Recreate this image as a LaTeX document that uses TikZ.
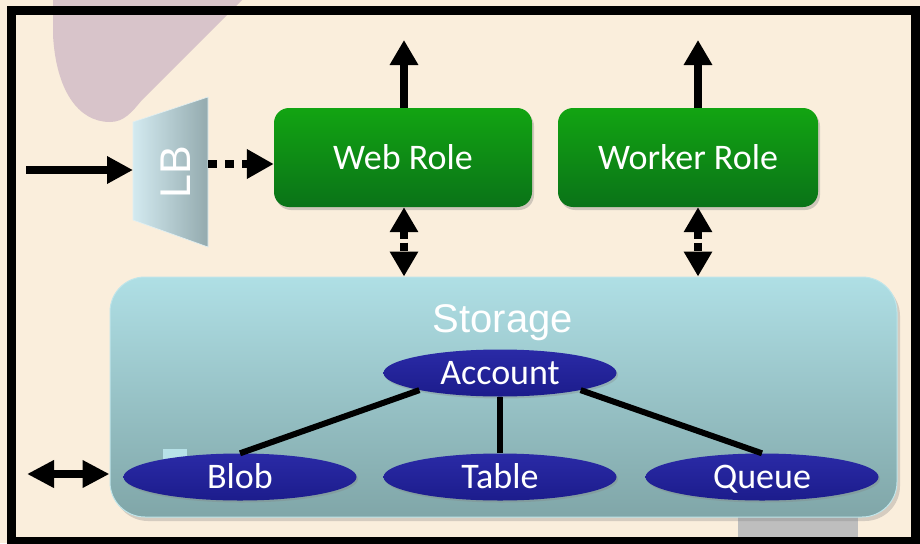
\documentclass[tikz,border=0pt]{standalone}
\usepackage{fontspec}
\setmainfont{Carlito}
\newfontfamily\lbfont{Liberation Sans}
\usetikzlibrary{arrows.meta,shapes.geometric,shadows}
\definecolor{bgc}{HTML}{FAEEDC}
\definecolor{blobpurple}{HTML}{D8C4CA}
\definecolor{greytab}{HTML}{BEBEBE}
\definecolor{grtop}{HTML}{12A412}
\definecolor{grbot}{HTML}{0A7318}
\definecolor{sttop}{HTML}{AFDFE5}
\definecolor{stmid}{HTML}{A3D0D5}
\definecolor{stbot}{HTML}{80A6A8}
\definecolor{eltop}{HTML}{2A2AA6}
\definecolor{elbot}{HTML}{1C1C8C}
\definecolor{lbl}{HTML}{D3EAF0}
\definecolor{lbr}{HTML}{93AAAE}
\tikzset{
  rolebox/.style={rounded corners=15pt, top color=grtop, bottom color=grbot, draw=none,
    minimum height=99pt, text=white, font=\fontsize{36}{42}\selectfont,
    drop shadow={opacity=0.35, shadow xshift=2pt, shadow yshift=-3pt}},
  storbox/.style={rounded corners=35pt, top color=sttop, middle color=stmid, bottom color=stbot,
    draw=sttop!80!white, line width=1pt,
    drop shadow={opacity=0.3, shadow xshift=3pt, shadow yshift=-4pt}},
  ell/.style={ellipse, inner sep=0pt, top color=eltop, bottom color=elbot, draw=none,
    minimum width=233pt, minimum height=47pt, text=white, font=\fontsize{36}{42}\selectfont,
    text height=23pt, text depth=0pt,
    drop shadow={opacity=0.3, shadow xshift=1.5pt, shadow yshift=-2pt}},
  uparrow/.style={line width=8.5pt, -{Triangle[length=25pt,width=27pt]}},
  inarrow/.style={line width=8pt, -{Triangle[length=26pt,width=26pt]}},
  dotarrow/.style={line width=8.5pt, dash pattern=on 9pt off 8pt, -{Triangle[length=27pt,width=28pt]}},
  dblarrow/.style={line width=8pt, dash pattern=on 8pt off 4pt,
    {Triangle[length=25pt,width=27pt]}-{Triangle[length=25pt,width=27pt]}},
  sidearrow/.style={line width=8pt, {Triangle[length=27pt,width=26pt]}-{Triangle[length=27pt,width=26pt]}},
  link/.style={line width=6pt}
}
\begin{document}
\begin{tikzpicture}[x=1pt,y=-1pt]
\useasboundingbox (0,0) rectangle (920,543);
\fill[bgc] (0,0) rectangle (920,543);
% background decorations
\fill[blobpurple] (53,0) -- (53,35) .. controls (56,90) and (78,122) .. (110,122)
   .. controls (124,122) and (132,112) .. (142,100) -- (242,0) -- cycle;
\fill[greytab] (738,505) rectangle (858,540);
% frame
\draw[line width=9pt] (11.5,10.5) rectangle (915,541);

% load balancer
\shade[left color=lbl, right color=lbr, draw=lbl!70!white, line width=0.6pt]
  (133,122) -- (208,97) -- (208,247) -- (133,220) -- cycle;
\node[rotate=90, text=white, font=\lbfont\fontsize{43}{48}\selectfont, inner sep=0pt] (lb) at (176,172) {LB};
\coordinate (lbin) at (133,170);
\coordinate (lbout) at (208,164);
\coordinate (src) at (26,170);

% roles
\node[rolebox, minimum width=258pt] (web) at (403,157.5) {Web Role};
\node[rolebox, minimum width=260pt] (wrk) at (688,157.5) {Worker Role};
\coordinate (webtop) at (404,40);
\coordinate (wrktop) at (698,40);

% storage
\node[storbox, minimum width=787pt, minimum height=240pt] (stor) at (503.5,397) {};
\node[text=white, font=\lbfont\fontsize{40}{46}\selectfont, inner sep=0pt] (storlbl) at (503,323) {Storage};
\fill[sttop!90!white] (163,449) rectangle (187,462);

% account tree
\node[ell] (acc) at (500,373) {Account};
\node[ell] (blob) at (240,477) {Blob};
\node[ell] (tab) at (500,477) {Table};
\node[ell] (que) at (762,477) {Queue};
\draw[link] (acc.192) -- (blob.north);
\draw[link] (acc.south) -- (tab.north);
\draw[link] (acc.348) -- (que.north);

% connectors
\draw[inarrow] (src) -- (lbin);
\draw[dotarrow] (lbout) -- (lbout -| web.west);
\draw[uparrow] (webtop |- web.north) -- (webtop);
\draw[uparrow] (wrktop |- wrk.north) -- (wrktop);
\draw[dblarrow] (webtop |- web.south) -- (webtop |- stor.north);
\draw[dblarrow] (wrktop |- wrk.south) -- (wrktop |- stor.north);
\coordinate (sidein) at (27,474);
\draw[sidearrow] (sidein) -- (sidein -| stor.west);
\end{tikzpicture}
\end{document}
